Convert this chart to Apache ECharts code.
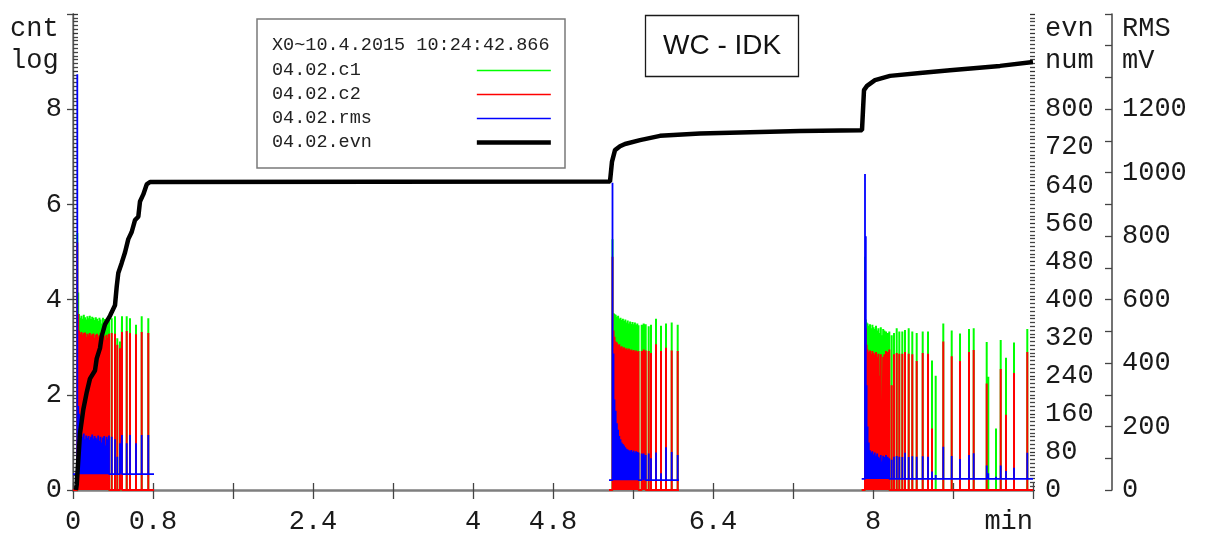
<!DOCTYPE html>
<html><head><meta charset="utf-8">
<script src="https://cdn.jsdelivr.net/npm/echarts@6/dist/echarts.min.js"></script>
<style>html,body{margin:0;padding:0;background:#fff}#c{width:1207px;height:536px}</style>
</head><body><div id="c"></div>
<script>
// ---------------- data ----------------
const xTickLabels   = ['0','0.8','','2.4','','4','4.8','','6.4','','8','','min'];
const cntTickLabels = ['0','2','4','6','8',''];
const evnTickLabels = ['0','80','160','240','320','400','480','560','640','720','800','',''];
const rmsTickLabels = ['0','','200','','400','','600','','800','','1000','','1200','','',''];
const seriesNames   = ['04.02.c1','04.02.c2','04.02.rms','04.02.evn'];
const headerText    = 'X0~10.4.2015 10:24:42.866';
const titleText     = 'WC - IDK';

// active periods (min) and RMS baseline (mV) of each burst
const burstStart  = [0.00, 5.36, 7.887];
const burstEnd    = [0.81, 6.06, 9.60];
const rmsBaseline = [50, 31, 35];

// burst 1
const b1Time = [0.043,0.052,0.060,0.072,0.084,0.096,0.108,0.120,0.132,0.144,0.156,0.168,0.180,0.192,0.204,0.216,0.228,0.240,0.252,0.264,0.276,0.288,0.300,0.312,0.324,0.336,0.348,0.360,0.387,0.42,0.443,0.47,0.49,0.537,0.57,0.63,0.687,0.753];
const b1C1   = [5.40,4.15,3.70,3.62,3.66,3.60,3.68,3.63,3.58,3.65,3.61,3.66,3.59,3.64,3.62,3.57,3.63,3.60,3.55,3.62,3.58,3.50,3.62,3.59,3.48,3.60,3.55,3.62,3.61,3.65,3.19,3.12,3.65,3.65,3.61,3.47,3.65,3.61];
const b1C2   = [5.20,3.70,3.35,3.28,3.32,3.26,3.30,3.31,3.22,3.28,3.25,3.30,3.24,3.27,3.29,3.20,3.26,3.28,3.22,3.25,3.30,3.18,3.27,3.24,3.15,3.26,3.20,3.28,3.30,3.28,3.05,2.98,3.32,3.34,3.30,3.27,3.32,3.30];
const b1Rms  = [1310,265,240,200,175,168,178,160,172,165,170,158,168,175,162,170,165,160,172,155,168,150,165,170,140,168,160,172,168,160,105,147,173,147,173,147,173,173];

// burst 2
const b2Time = [5.395,5.405,5.415,5.427,5.439,5.451,5.463,5.475,5.487,5.499,5.511,5.523,5.535,5.547,5.559,5.571,5.583,5.595,5.607,5.619,5.631,5.643,5.655,5.687,5.707,5.727,5.757,5.78,5.83,5.88,5.93,5.987,6.047];
const b2C1   = [5.27,3.72,3.70,3.68,3.64,3.66,3.60,3.62,3.57,3.60,3.55,3.58,3.52,3.56,3.50,3.54,3.49,3.53,3.48,3.52,3.47,3.50,3.46,3.47,3.50,3.48,3.44,3.47,3.60,3.45,3.50,3.52,3.47];
const b2C2   = [4.90,3.35,3.22,3.12,3.10,3.05,3.06,3.00,3.02,2.98,3.00,2.96,2.98,2.94,2.97,2.93,2.95,2.92,2.94,2.91,2.93,2.90,2.92,2.92,2.95,2.93,2.92,2.88,3.06,2.92,2.99,2.93,2.92];
const b2Rms  = [968,430,285,250,210,190,170,160,150,145,140,135,130,128,125,122,126,120,124,118,122,120,118,115,115,110,115,100,118,53,135,120,110];

// burst 3
const b3Time = [7.92,7.928,7.936,7.946,7.958,7.970,7.982,7.994,8.006,8.018,8.030,8.042,8.054,8.066,8.078,8.090,8.102,8.114,8.13,8.147,8.163,8.187,8.21,8.237,8.263,8.293,8.32,8.357,8.393,8.437,8.497,8.55,8.59,8.627,8.703,8.787,8.87,8.96,9.007,9.137,9.153,9.23,9.277,9.33,9.41,9.543];
const b3C1   = [4.90,3.58,3.52,3.50,3.45,3.48,3.40,3.47,3.42,3.38,3.45,3.35,3.40,3.30,3.42,3.25,3.38,3.35,3.33,3.30,3.33,3.25,3.30,3.40,3.33,3.33,3.36,3.40,3.33,3.30,3.33,3.33,2.72,2.40,3.50,3.35,3.29,3.38,3.40,3.11,2.38,1.29,3.15,2.78,3.10,3.38];
const b3C2   = [4.60,3.40,3.05,2.95,2.90,2.93,2.86,2.92,2.88,2.84,2.90,2.80,2.86,2.40,2.85,1.90,2.80,2.85,2.92,2.90,2.95,2.20,2.85,2.88,2.86,2.86,2.90,2.86,2.85,2.71,2.88,2.86,1.29,0,3.12,2.81,2.71,2.90,2.94,2.24,0,0,2.54,1.58,2.46,2.90];
const b3Rms  = [996,800,330,200,150,125,118,122,112,118,108,115,105,100,110,90,108,104,110,105,100,95,105,107,105,104,117,104,106,105,106,105,58,47,136,107,98,110,116,77,53,42,77,60,70,117];

// cumulative event count
const evnTime  = [0.03,0.037,0.07,0.103,0.137,0.17,0.22,0.237,0.27,0.287,0.32,0.37,0.42,0.437,0.453,0.487,0.52,0.553,0.587,0.62,0.653,0.67,0.703,0.737,0.77,5.37,5.39,5.42,5.47,5.52,5.67,5.87,6.27,7.27,7.89,7.91,7.94,8.02,8.17,8.47,8.77,9.27,9.6];
const evnCount = [0,11,119,169,205,234,251,276,298,323,348,366,388,427,456,477,499,527,542,567,574,606,621,642,647,648,690,714,722,727,735,744,749,754,756,840,849,861,870,876,882,891,899];

// ---------------- build ----------------
const bursts = [
  {t:b1Time, c1:b1C1, c2:b1C2, rms:b1Rms},
  {t:b2Time, c1:b2C1, c2:b2C2, rms:b2Rms},
  {t:b3Time, c1:b3C1, c2:b3C2, rms:b3Rms}
];
function spikeSeries(key, baseFn) {
  const pts = [];
  bursts.forEach((b, r) => {
    const base = baseFn(r);
    pts.push([burstStart[r], base]);
    b.t.forEach((t, i) => { pts.push([t, base], [t, b[key][i]], [t, base]); });
    pts.push([burstEnd[r], base], [burstEnd[r], null]);
  });
  return pts;
}
const c1Data  = spikeSeries('c1', () => 0);
const c2Data  = spikeSeries('c2', () => 0);
const rmsData = spikeSeries('rms', r => rmsBaseline[r]);
const evnData = evnTime.map((t, i) => [t, evnCount[i]]);

const MONO = '"Liberation Mono", "DejaVu Sans Mono", monospace';
const lab = {fontFamily: MONO, fontSize: 27, color: '#1a1a1a'};
function pick(labels, step) {
  return v => { const i = Math.round(v / step); return Math.abs(i * step - v) < 1e-6 ? (labels[i] ?? '') : ''; };
}
const tickLS = {color: '#444', width: 1.3};

const chart = echarts.init(document.getElementById('c'), null, {renderer: 'canvas'});
chart.setOption({
  animation: false,
  backgroundColor: '#fff',
  grid: {left: 73, right: 174, top: 14, bottom: 46, containLabel: false},
  title: {
    text: titleText, left: 645, top: 15, padding: [17, 18],
    borderColor: '#1a1a1a', borderWidth: 1.3,
    textStyle: {fontFamily: '"Liberation Sans", Arial, sans-serif', fontSize: 28, fontWeight: 'normal', color: '#111'}
  },
  legend: {
    orient: 'vertical', left: 272, top: 61, align: 'right', padding: 0,
    itemWidth: 74, itemHeight: 14, itemGap: 5, selectedMode: false,
    itemStyle: {borderWidth: 0},
    textStyle: {fontFamily: MONO, fontSize: 18.5, color: '#222'},
    formatter: n => n.padEnd(18, ' '),
    data: [
      {name: seriesNames[0], icon: 'path://M0,0H74V1.5H0Z'},
      {name: seriesNames[1], icon: 'path://M0,0H74V1.5H0Z'},
      {name: seriesNames[2], icon: 'path://M0,0H74V1.5H0Z'},
      {name: seriesNames[3], icon: 'path://M0,0H74V4.5H0Z'}
    ]
  },
  graphic: [
    {type: 'rect', shape: {x: 257, y: 19, width: 308, height: 149}, style: {fill: 'none', stroke: '#7a7a7a', lineWidth: 1.5}, silent: true},
    {type: 'text', x: 272, y: 45, style: {text: headerText, font: '18.5px ' + MONO, fill: '#222', verticalAlign: 'middle'}},
    {type: 'text', x: 10, y: 29, style: {text: 'cnt', font: '27px ' + MONO, fill: '#1a1a1a', verticalAlign: 'middle'}},
    {type: 'text', x: 10, y: 61, style: {text: 'log', font: '27px ' + MONO, fill: '#1a1a1a', verticalAlign: 'middle'}},
    {type: 'text', x: 1045, y: 29, style: {text: 'evn', font: '27px ' + MONO, fill: '#1a1a1a', verticalAlign: 'middle'}},
    {type: 'text', x: 1045, y: 61, style: {text: 'num', font: '27px ' + MONO, fill: '#1a1a1a', verticalAlign: 'middle'}},
    {type: 'text', x: 1122, y: 29, style: {text: 'RMS', font: '27px ' + MONO, fill: '#1a1a1a', verticalAlign: 'middle'}},
    {type: 'text', x: 1122, y: 61, style: {text: 'mV', font: '27px ' + MONO, fill: '#1a1a1a', verticalAlign: 'middle'}}
  ],
  xAxis: [
    {type: 'value', min: 0, max: 9.6, interval: 0.8,
     axisLine: {lineStyle: {color: '#7f7f7f', width: 2.5}},
     axisTick: {length: 9, lineStyle: tickLS},
     axisLabel: Object.assign({}, lab, {margin: 18, formatter: pick(xTickLabels, 0.8), alignMaxLabel: 'right', showMaxLabel: true, showMinLabel: true}),
     splitLine: {show: false}},
    {type: 'value', min: 0, max: 9.6, interval: 0.8, position: 'bottom',
     axisLine: {show: false}, axisTick: {inside: true, length: 7, lineStyle: tickLS},
     axisLabel: {show: false}, splitLine: {show: false}}
  ],
  yAxis: [
    {type: 'value', position: 'left', min: 0, max: 10, interval: 2,
     axisLine: {show: true, lineStyle: {color: '#7f7f7f', width: 1.5}},
     axisTick: {show: true, length: 6, lineStyle: tickLS},
     axisLabel: Object.assign({}, lab, {margin: 11, formatter: pick(cntTickLabels, 2)}),
     splitLine: {show: false}},
    {type: 'value', position: 'right', offset: 2, min: 0, max: 1000, interval: 80,
     axisLine: {show: true, lineStyle: {color: '#555', width: 1.3}},
     axisTick: {show: true, length: 5, lineStyle: {color: '#333', width: 1.3}},
     minorTick: {show: true, splitNumber: 10, length: 5, lineStyle: {color: '#444', width: 1.3}},
     axisLabel: Object.assign({}, lab, {margin: 10, formatter: pick(evnTickLabels, 80)}),
     splitLine: {show: false}, minorSplitLine: {show: false}},
    {type: 'value', position: 'right', offset: 2, min: 0, max: 1000, interval: 80,
     axisLine: {show: false},
     axisTick: {show: true, inside: true, length: 5, lineStyle: {color: '#333', width: 1.3}},
     minorTick: {show: true, splitNumber: 10, length: 5, lineStyle: {color: '#444', width: 1.3}},
     axisLabel: {show: false}, splitLine: {show: false}},
    {type: 'value', position: 'right', offset: 79, min: 0, max: 1500, interval: 100,
     axisLine: {show: true, lineStyle: {color: '#444', width: 1.5}},
     axisTick: {show: true, inside: true, length: 7, lineStyle: tickLS},
     axisLabel: Object.assign({}, lab, {margin: 10, formatter: pick(rmsTickLabels, 100)}),
     splitLine: {show: false}}
  ],
  series: [
    {name: seriesNames[0], type: 'line', xAxisIndex: 0, yAxisIndex: 0, data: c1Data, symbol: 'none', color: '#00ff00',
     lineStyle: {color: '#00ff00', width: 2}, z: 2, silent: true},
    {name: seriesNames[1], type: 'line', xAxisIndex: 0, yAxisIndex: 0, data: c2Data, symbol: 'none', color: '#ff0000',
     lineStyle: {color: '#ff0000', width: 2}, z: 3, silent: true},
    {name: seriesNames[2], type: 'line', xAxisIndex: 0, yAxisIndex: 3, data: rmsData, symbol: 'none', color: '#0000ff',
     lineStyle: {color: '#0000ff', width: 1.8}, z: 4, silent: true},
    {name: seriesNames[3], type: 'line', xAxisIndex: 0, yAxisIndex: 1, data: evnData, symbol: 'none', color: '#000000',
     lineStyle: {color: '#000000', width: 4.5}, z: 5, silent: true}
  ]
});
</script></body></html>
